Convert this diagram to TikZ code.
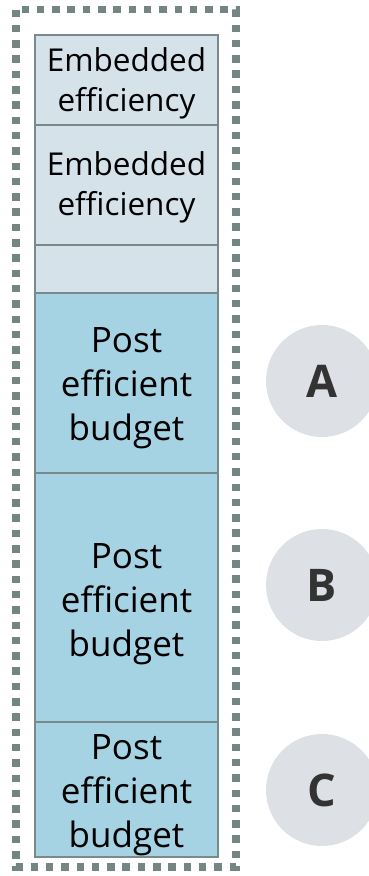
\documentclass[tikz,border=0pt]{standalone}
\usepackage{fontspec}
\setmainfont{Open Sans}
\definecolor{lightfill}{HTML}{D6E2EA}
\definecolor{bluefill}{HTML}{A6D3E3}
\definecolor{boxedge}{HTML}{788A8A}
\definecolor{dashcol}{HTML}{738683}
\definecolor{circfill}{HTML}{DDE1E6}
\definecolor{lettercol}{HTML}{333333}
\tikzset{
  stackbox/.style={draw=boxedge, line width=2pt, minimum width=183pt, inner sep=0pt},
  lightbox/.style={stackbox, fill=lightfill},
  bluebox/.style={stackbox, fill=bluefill},
  lighttext/.style={inner sep=0pt, align=center, text=black, font=\fontsize{31.5}{40}\selectfont},
  bluetext/.style={inner sep=0pt, align=center, text=black, font=\fontsize{35}{44}\selectfont},
  badge/.style={circle, fill=circfill, minimum size=112pt, inner sep=0pt, text=lettercol, font=\fontsize{45}{45}\selectfont\bfseries},
  frame/.style={draw=dashcol, line width=7.5pt, dash pattern=on 7.5pt off 7.8pt}
}
\begin{document}
\begin{tikzpicture}[x=1pt,y=-1pt]
\useasboundingbox (0,0) rectangle (369,876);
\clip (0,0) rectangle (369,876);
\draw[frame] (16,9.5) rectangle (236,867);
\node[lightbox, minimum height=90pt] (e1) at (126.5,80) {};
\node[lighttext] (t1) at (126.5,83) {Embedded\\efficiency};
\node[lightbox, minimum height=120pt] (e2) at (126.5,185) {};
\node[lighttext] (t2) at (126.5,187) {Embedded\\efficiency};
\node[lightbox, minimum height=48pt] (e3) at (126.5,269) {};
\node[bluebox, minimum height=180pt] (p1) at (126.5,383) {};
\node[bluetext] (t4) at (126.5,388) {Post\\efficient\\budget};
\node[bluebox, minimum height=249pt] (p2) at (126.5,597.5) {};
\node[bluetext] (t5) at (126.5,604) {Post\\efficient\\budget};
\node[bluebox, minimum height=135pt] (p3) at (126.5,789.5) {};
\node[bluetext] (t6) at (126.5,795) {Post\\efficient\\budget};
\node[badge] (a) at (322,381) {A};
\node[badge] (b) at (322,585) {B};
\node[badge] (c) at (322,790) {C};
\end{tikzpicture}
\end{document}
